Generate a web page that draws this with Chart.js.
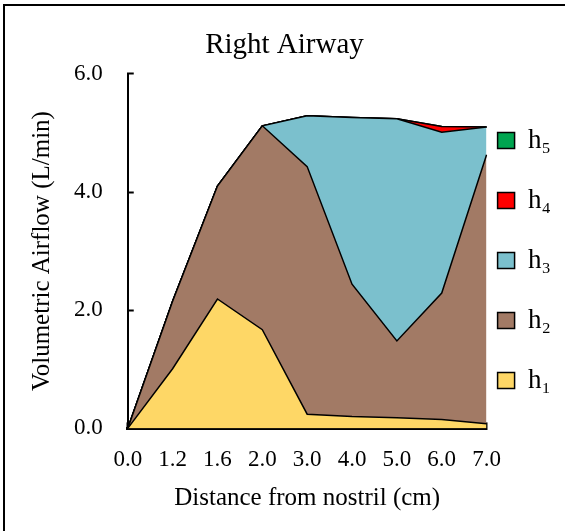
<!DOCTYPE html>
<html>
<head>
<meta charset="utf-8">
<script src="https://cdn.jsdelivr.net/npm/chart.js@4/dist/chart.umd.min.js"></script>
<style>
  html, body { margin: 0; padding: 0; background: #fff; overflow: hidden; }
  #wrap { position: absolute; left: 0; top: 0; width: 565px; height: 531px; }
  #frame { position: absolute; left: 3px; top: 4px; width: 700px; height: 700px; border: 2px solid #000; pointer-events: none; }
</style>
</head>
<body>
<div id="wrap"><canvas id="c" width="565" height="531"></canvas></div>
<div id="frame"></div>
<script>
const categories = ['0.0', '1.2', '1.6', '2.0', '3.0', '4.0', '5.0', '6.0', '7.0'];
const h1 = [0, 1.01, 2.19, 1.67, 0.24, 0.20, 0.18, 0.15, 0.08];
const h2 = [0, 1.14, 1.91, 3.45, 4.19, 2.24, 1.30, 2.14, 4.55];
const h3 = [0, 0, 0, 0, 0.86, 2.82, 3.76, 2.72, 0.47];
const h4 = [0, 0, 0, 0, 0, 0, 0, 0.10, 0];
const h5 = [0, 0, 0, 0, 0, 0, 0, 0, 0];
const seriesNames = ['h\u2081', 'h\u2082', 'h\u2083', 'h\u2084', 'h\u2085'];
const yTicks = [0, 2, 4, 6];

const colors = ['#FED766', '#A27A65', '#7BC0CD', '#FF0000', '#00A550'];
const FONT = "'Liberation Serif', 'Times New Roman', serif";
const series = [h1, h2, h3, h4, h5];

const datasets = series.map((d, i) => ({
  label: seriesNames[i],
  data: d,
  backgroundColor: colors[i],
  borderColor: '#000',
  borderWidth: 1.5,
  fill: i === 0 ? 'origin' : '-1',
  pointRadius: 0,
  pointHoverRadius: 0,
  tension: 0
}));

const defaultLabels = Chart.defaults.plugins.legend.labels.generateLabels;

new Chart(document.getElementById('c'), {
  type: 'line',
  data: { labels: categories, datasets },
  options: {
    responsive: false,
    animation: false,
    events: [],
    layout: { padding: { left: 8, right: 4, top: 0, bottom: 18 } },
    plugins: {
      title: {
        display: true,
        text: 'Right Airway',
        color: '#000',
        font: { family: FONT, size: 29, weight: 'normal' },
        padding: { top: 28, bottom: 11 }
      },
      legend: {
        position: 'right',
        reverse: true,
        title: { display: true, text: '', font: { family: FONT, size: 10, lineHeight: 1 }, padding: { top: 10, bottom: 10 } },
        labels: {
          color: '#000',
          font: { family: FONT, size: 27, lineHeight: '49px' },
          boxWidth: 17,
          boxHeight: 16,
          padding: 11,
          generateLabels: (chart) => defaultLabels(chart).map(l => Object.assign(l, { text: [l.text] }))
        }
      },
      tooltip: { enabled: false }
    },
    scales: {
      x: {
        offset: false,
        grid: { display: true, drawOnChartArea: false, tickLength: -6, tickWidth: 2, tickColor: '#000' },
        border: { display: true, color: '#000', width: 3 },
        ticks: { color: '#000', font: { family: FONT, size: 23 }, padding: 24, maxRotation: 0, autoSkip: false },
        title: {
          display: true,
          text: 'Distance from nostril (cm)',
          color: '#000',
          font: { family: FONT, size: 25 },
          padding: { top: -15, bottom: 0 }
        }
      },
      y: {
        stacked: true,
        min: 0,
        max: 6,
        afterBuildTicks: (axis) => { axis.ticks = yTicks.map(v => ({ value: v })); },
        grid: { display: true, drawOnChartArea: false, tickLength: -6, tickWidth: 2, tickColor: '#000' },
        border: { display: true, color: '#000', width: 2 },
        ticks: { color: '#000', font: { family: FONT, size: 23 }, padding: 31, callback: v => Number(v).toFixed(1) },
        title: {
          display: true,
          text: 'Volumetric Airflow (L/min)',
          color: '#000',
          font: { family: FONT, size: 25 },
          padding: { top: 19, bottom: -14 }
        }
      }
    }
  }
});
</script>
</body>
</html>
